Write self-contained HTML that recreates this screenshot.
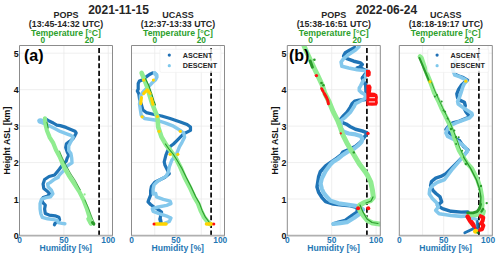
<!DOCTYPE html>
<html><head><meta charset="utf-8"><style>
html,body{margin:0;padding:0;background:#fff;overflow:hidden}
svg{display:block}
</style></head><body>
<svg width="500" height="259" viewBox="0 0 500 259">
<rect width="500" height="259" fill="#fff"/>
<g stroke="#ebebeb" stroke-width="0.8"><line x1="19.5" y1="199.04" x2="112.5" y2="199.04"/><line x1="19.5" y1="162.58" x2="112.5" y2="162.58"/><line x1="19.5" y1="126.12" x2="112.5" y2="126.12"/><line x1="19.5" y1="89.66" x2="112.5" y2="89.66"/><line x1="19.5" y1="53.20" x2="112.5" y2="53.20"/><line x1="63.90" y1="45.5" x2="63.90" y2="235.5"/><line x1="108.30" y1="45.5" x2="108.30" y2="235.5"/></g>
<g stroke="#ebebeb" stroke-width="0.8"><line x1="131.5" y1="199.04" x2="224.5" y2="199.04"/><line x1="131.5" y1="162.58" x2="224.5" y2="162.58"/><line x1="131.5" y1="126.12" x2="224.5" y2="126.12"/><line x1="131.5" y1="89.66" x2="224.5" y2="89.66"/><line x1="131.5" y1="53.20" x2="224.5" y2="53.20"/><line x1="175.90" y1="45.5" x2="175.90" y2="235.5"/><line x1="220.30" y1="45.5" x2="220.30" y2="235.5"/><line x1="154.75" y1="45.5" x2="154.75" y2="235.5"/><line x1="201.25" y1="45.5" x2="201.25" y2="235.5"/></g>
<g stroke="#ebebeb" stroke-width="0.8"><line x1="287.3" y1="199.04" x2="380.3" y2="199.04"/><line x1="287.3" y1="162.58" x2="380.3" y2="162.58"/><line x1="287.3" y1="126.12" x2="380.3" y2="126.12"/><line x1="287.3" y1="89.66" x2="380.3" y2="89.66"/><line x1="287.3" y1="53.20" x2="380.3" y2="53.20"/><line x1="331.70" y1="45.5" x2="331.70" y2="235.5"/><line x1="376.10" y1="45.5" x2="376.10" y2="235.5"/></g>
<g stroke="#ebebeb" stroke-width="0.8"><line x1="399.3" y1="199.04" x2="492.3" y2="199.04"/><line x1="399.3" y1="162.58" x2="492.3" y2="162.58"/><line x1="399.3" y1="126.12" x2="492.3" y2="126.12"/><line x1="399.3" y1="89.66" x2="492.3" y2="89.66"/><line x1="399.3" y1="53.20" x2="492.3" y2="53.20"/><line x1="443.70" y1="45.5" x2="443.70" y2="235.5"/><line x1="488.10" y1="45.5" x2="488.10" y2="235.5"/><line x1="422.55" y1="45.5" x2="422.55" y2="235.5"/><line x1="469.05" y1="45.5" x2="469.05" y2="235.5"/></g>
<line x1="99.10" y1="235.5" x2="99.10" y2="45.5" stroke="#111" stroke-width="1.8" stroke-dasharray="5.1 2.5"/>
<line x1="211.10" y1="235.5" x2="211.10" y2="45.5" stroke="#111" stroke-width="1.8" stroke-dasharray="5.1 2.5"/>
<line x1="366.90" y1="235.5" x2="366.90" y2="45.5" stroke="#111" stroke-width="1.8" stroke-dasharray="5.1 2.5"/>
<line x1="478.90" y1="235.5" x2="478.90" y2="45.5" stroke="#111" stroke-width="1.8" stroke-dasharray="5.1 2.5"/>
<defs><clipPath id="ax"><rect x="19.5" y="45.5" width="93.0" height="190.0"/><rect x="131.5" y="45.5" width="93.0" height="190.0"/><rect x="287.3" y="45.5" width="93.0" height="190.0"/><rect x="399.3" y="45.5" width="93.0" height="190.0"/></clipPath></defs>
<g clip-path="url(#ax)"><g fill="none" stroke-linecap="round" stroke-linejoin="round">
<polyline points="45.6,118.9 49.1,121.0 53.3,123.0 56.8,125.1 60.2,125.6 66.0,127.4 70.8,129.4 75.0,131.2 76.2,133.0 75.0,135.4 73.2,138.4 69.6,141.4 66.4,143.8 65.7,147.5 67.2,152.0 68.7,155.1 67.2,158.1 66.2,161.2 62.7,164.6 59.3,169.3 54.6,175.0 49.1,176.5 44.6,179.5 43.1,184.0 43.8,188.6 47.6,191.6 49.8,193.8 47.6,196.1 43.1,197.6 41.6,199.8 43.1,202.9 45.3,205.1 44.6,209.0 45.3,213.6 49.1,215.1 55.1,215.8 58.9,217.3 59.6,219.6 58.1,221.8 55.1,223.3 54.4,224.8" stroke="#1f74b6" stroke-width="3.2"/>
<polyline points="39.0,120.5 42.0,122.5 47.7,125.1 54.7,128.6 60.2,131.4 66.0,133.6 70.8,135.4 73.2,137.2 72.0,139.6 70.2,143.0 68.7,146.0 68.7,150.5 70.9,153.6 71.7,158.1 72.0,162.9 67.4,165.8 62.7,171.6 59.3,175.0 58.1,177.4 54.6,179.1 50.0,182.6 47.6,184.0 48.3,187.0 51.4,190.1 52.9,193.8 50.6,196.8 46.1,197.6 41.6,199.1 40.1,203.6 40.1,209.0 40.8,213.6 42.3,217.3 47.6,218.8 53.6,219.6 57.4,220.3 58.1,222.6 61.9,223.3 64.9,223.8" stroke="#84c8ec" stroke-width="3.4"/>
<polyline points="40.3,121.0 42.5,121.6" stroke="#84c8ec" stroke-width="5.6"/>
<polyline points="44.9,118.4 45.6,125.1 47.0,130.7 49.8,137.6 53.3,143.2 56.0,150.0 59.8,157.0 63.9,166.9 68.5,175.0 73.1,182.0 79.3,191.6 83.2,199.3 87.0,209.0 90.0,218.6 90.9,223.4" stroke="#90ec90" stroke-width="4.2"/>
<polyline points="59.5,151.0 62.5,158.0 66.5,166.0 71.0,174.0 75.0,180.0 80.3,189.7" stroke="#2a9a2a" stroke-width="0.8"/>
<polyline points="85.0,200.0 88.5,208.0 91.5,216.0 93.5,221.0 94.8,223.4" stroke="#2a9a2a" stroke-width="0.8"/>
<circle cx="84.6" cy="194.4" r="1.1" fill="#90ec90" stroke="none"/>
<polyline points="88.5,219.0 91.0,223.5" stroke="#90ec90" stroke-width="4.5"/>
<polyline points="47.0,122.3 48.2,128.0" stroke="#2a9a2a" stroke-width="1.0"/>
<polyline points="92.5,222.5 93.8,224.2" stroke="#2a9a2a" stroke-width="3.0"/>
<polyline points="152.7,72.9 149.5,74.5 146.9,76.4 142.3,79.9 139.4,81.1 138.2,83.4 138.2,89.2 137.3,91.0 138.8,93.8 139.5,98.9 141.2,104.0 142.9,110.0 146.3,112.6 153.1,114.3 161.6,116.0 170.1,118.5 180.3,121.9 187.1,124.5 190.5,127.0 190.5,130.4 187.1,132.1 183.7,133.8 180.3,137.2 176.9,140.6 173.5,144.0 170.1,146.6 167.6,150.8 165.9,155.1 164.2,161.9 165.0,165.3 167.6,170.4 169.3,173.8 165.0,177.2 159.9,179.8 154.8,182.3 151.4,186.6 150.6,190.8 150.6,195.1 148.9,199.4 148.0,201.9 150.6,204.5 154.0,207.0 158.2,209.6 161.6,212.1 160.8,215.5 159.9,218.9 160.8,221.5" stroke="#1f74b6" stroke-width="3.2"/>
<polyline points="154.5,72.8 156.6,74.5 157.0,77.0 155.5,80.0 152.5,82.5 148.9,86.4 146.0,89.0 143.0,92.0 140.4,96.0 140.4,99.0 139.5,104.0 140.4,110.0 141.2,115.1 144.6,118.5 156.5,120.2 165.0,122.8 173.5,126.2 180.3,130.4 183.7,133.0 184.6,137.2 182.0,142.3 179.5,146.6 177.8,150.8 176.1,155.1 171.8,160.2 169.3,167.0 168.4,172.1 165.9,176.4 161.6,178.9 157.4,181.5 154.0,184.9 153.1,189.1 153.1,194.0 155.7,193.4 156.5,196.8 163.3,199.4 170.1,201.1 171.0,203.6 166.7,205.3 158.2,207.0 152.3,208.7 153.1,211.3 159.9,213.8 167.6,216.4 171.0,218.1 169.3,221.5 165.0,223.2" stroke="#84c8ec" stroke-width="3.4"/>
<polyline points="155.0,73.6 156.2,75.0" stroke="#84c8ec" stroke-width="4.2"/>
<polyline points="141.6,72.8 144.6,80.2 147.2,87.0 149.7,95.5 152.3,104.0 155.7,112.5 157.4,116.8 158.2,127.0 161.6,137.2 166.2,145.0 170.1,150.0 175.2,157.0 180.3,167.0 184.6,177.2 189.9,187.4 194.2,196.8 198.2,203.6 200.7,210.4 204.1,217.2 207.5,221.5 210.1,224.0" stroke="#90ec90" stroke-width="4.6"/>
<polyline points="145.5,78.7 148.6,85.0 151.5,93.0 154.0,101.0 155.5,105.0" stroke="#2a9a2a" stroke-width="1.1"/>
<polyline points="165.4,144.0 168.9,149.0 173.1,154.0 176.9,160.0 181.9,168.5 186.2,177.2 191.4,187.4 195.7,196.8 199.6,203.6 202.1,210.4 205.4,217.2 209.4,222.5" stroke="#2a9a2a" stroke-width="1.1"/>
<polyline points="143.6,93.6 147.2,89.8 150.2,93.6" stroke="#ffd400" stroke-width="3.0"/>
<polyline points="141.5,97.6 140.7,103.8" stroke="#ffd400" stroke-width="3.0"/>
<polyline points="151.4,98.2 152.9,104.3" stroke="#ffd400" stroke-width="3.0"/>
<circle cx="143.7" cy="80.1" r="1.6" fill="#ffd400" stroke="none"/>
<circle cx="153.4" cy="80.1" r="1.6" fill="#ffd400" stroke="none"/>
<circle cx="142.1" cy="116.8" r="1.6" fill="#ffd400" stroke="none"/>
<circle cx="157.4" cy="116.5" r="1.6" fill="#ffd400" stroke="none"/>
<circle cx="159.1" cy="131.3" r="1.6" fill="#ffd400" stroke="none"/>
<circle cx="180.3" cy="131.3" r="1.6" fill="#ffd400" stroke="none"/>
<circle cx="170.1" cy="154.3" r="1.6" fill="#ffd400" stroke="none"/>
<circle cx="177.8" cy="154.3" r="1.6" fill="#ffd400" stroke="none"/>
<polyline points="160.4,219.5 160.8,223.0" stroke="#1f74b6" stroke-width="3.6"/>
<polyline points="155.5,224.0 166.0,224.0" stroke="#ffd400" stroke-width="3.6"/>
<polyline points="206.5,224.0 211.8,224.0" stroke="#ffd400" stroke-width="3.6"/>
<circle cx="154.0" cy="224" r="1.5" fill="#ff1010" stroke="none"/>
<circle cx="213.8" cy="224" r="1.5" fill="#ff1010" stroke="none"/>
<polyline points="354.7,47.6 350.0,50.0 345.3,52.7 343.6,56.1 347.0,58.6 353.8,61.2 360.6,62.9 362.3,64.6 359.8,67.1 357.2,68.0 362.3,68.8 365.7,70.5 367.4,71.4 364.0,75.6 362.3,78.2 363.2,80.7 365.7,85.0 366.0,92.0 366.0,98.0 365.7,99.5 358.9,100.3 354.7,101.2 352.1,103.7 350.4,107.1 347.0,112.2 342.8,116.5 340.2,119.9 341.9,122.4 346.2,124.1 350.4,126.7 355.5,129.3 362.3,131.0 366.6,132.7 365.7,135.2 363.2,138.6 360.6,142.0 355.5,146.3 348.7,149.7 342.8,152.2 341.1,154.8 336.8,158.2 331.7,161.6 325.6,166.0 320.3,171.8 318.6,176.9 317.8,182.0 317.0,187.1 318.6,192.2 321.8,197.3 325.6,201.6 333.4,204.1 341.9,205.0 350.4,205.8 357.2,207.5 357.2,212.0 352.1,215.4 345.3,220.5 338.5,222.2 333.4,223.9" stroke="#1f74b6" stroke-width="3.5"/>
<polyline points="358.9,46.7 355.5,50.1 348.7,54.4 343.6,58.6 341.1,62.0 341.9,66.3 348.7,68.0 357.2,69.7 364.0,70.5 367.4,71.4 365.7,75.6 364.0,79.0 362.3,82.4 360.6,85.8 359.3,88.0 359.3,90.4 361.6,92.7 364.9,94.5 365.7,97.8 363.2,99.5 358.9,102.0 355.5,103.7 353.8,107.1 350.4,112.2 345.3,117.3 341.6,120.2 340.8,124.0 341.5,128.0 343.6,131.8" stroke="#84c8ec" stroke-width="3.6"/>
<polyline points="343.6,131.8 348.7,133.5 355.5,134.4 360.6,136.1 362.3,138.6 361.5,142.0 358.1,145.4 353.8,148.8 347.0,152.2 341.9,155.6 337.7,159.0 333.4,161.6 330.0,165.0 325.6,171.0 321.8,178.6 320.6,183.7 321.8,188.8 323.8,193.1 327.2,197.3 330.5,200.7 338.5,203.3 347.0,204.5 355.5,205.8 360.0,207.5 363.2,209.5 359.8,213.7 353.8,218.0 347.0,222.2 340.2,223.1 333.4,223.9" stroke="#84c8ec" stroke-width="4.2"/>
<polyline points="303.9,45.6 306.6,52.0 309.7,58.5 312.3,64.0 315.1,70.0 317.8,75.6 322.2,85.0 324.9,93.5 329.2,102.0 333.4,112.2 337.7,120.7 340.2,127.0 342.7,134.7 347.6,144.3 353.4,154.0 359.2,163.7 365.0,171.4 367.4,175.2 370.8,182.0 372.5,190.5 373.4,197.3 370.8,200.5 364.0,202.7 359.5,205.2 359.8,210.3 363.2,215.4 367.4,220.5 372.5,223.1 379.5,223.9" stroke="#90ec90" stroke-width="5.0"/>
<circle cx="353.8" cy="152.4" r="1.2" fill="#2a9a2a" stroke="none"/>
<polyline points="360.0,205.0 363.0,212.0 367.0,219.0 372.0,222.5 378.0,223.5" stroke="#2a9a2a" stroke-width="1.2"/>
<polyline points="366.0,203.0 371.0,201.0 373.0,197.0" stroke="#2a9a2a" stroke-width="1.2"/>
<polyline points="310.2,61.0 312.4,67.2" stroke="#2a9a2a" stroke-width="3.0"/>
<circle cx="314.4" cy="59.8" r="1.3" fill="#2a9a2a" stroke="none"/>
<circle cx="323.4" cy="85.2" r="1.3" fill="#2a9a2a" stroke="none"/>
<circle cx="321.5" cy="83" r="1.3" fill="#2a9a2a" stroke="none"/>
<circle cx="362.5" cy="77.3" r="1.5" fill="#1f74b6" stroke="none"/>
<circle cx="316.4" cy="75.6" r="1.7" fill="#ff1010" stroke="none"/>
<circle cx="368" cy="133.4" r="1.7" fill="#ff1010" stroke="none"/>
<circle cx="358.1" cy="208.3" r="2.0" fill="#ff1010" stroke="none"/>
<circle cx="368.3" cy="208.3" r="2.0" fill="#ff1010" stroke="none"/>
<circle cx="340.8" cy="133.4" r="1.1" fill="#ff1010" stroke="none"/>
<polyline points="321.6,88.6 323.2,91.5" stroke="#ff1010" stroke-width="2.8"/>
<polyline points="324.3,93.5 326.5,97.5 327.8,100.5 328.4,103.8" stroke="#ff1010" stroke-width="3.0"/>
<path d="M366,70 L369.5,69.8 L370.8,72 L370.6,75.5 L368.5,77 L366,76.5 Z" fill="#ff1010" stroke="none"/>
<path d="M366.4,84.8 L370.2,84.6 L371.6,87 L371.2,90.5 L370.8,92.6 L374.5,92.8 L377.2,94.2 L377.9,97 L377.6,100 L377.9,103 L376.8,105.4 L372,105.8 L366.4,105.6 Z" fill="#ff1010" stroke="none"/>
<path d="M369.4,97.1 L375,97.1 L375,98.3 L369.4,98.3 Z M368.8,101.2 L375,101.2 L375,102.4 L368.8,102.4 Z" fill="#ffc8c8" stroke="none"/>
<polyline points="454.8,74.2 459.0,76.0 463.3,77.6 467.5,80.2 464.1,82.7 461.3,85.3 458.6,89.5 456.8,93.8 457.6,98.0 460.7,100.6 464.4,102.3 465.3,105.7 464.1,108.2 466.0,112.0 469.7,116.8 459.5,121.1 452.7,122.8 448.5,126.2 445.9,129.6 448.5,132.1 452.7,135.5 456.1,138.9 459.5,140.6 461.2,143.2 463.8,146.6 468.0,150.0 465.5,153.4 461.2,158.5 456.1,163.6 451.0,168.7 445.9,173.8 440.8,176.4 435.7,178.1 431.5,181.5 430.6,185.7 433.2,190.8 436.0,193.5 440.0,196.8 441.7,201.9 437.4,205.3 442.5,208.7 451.0,211.3 461.2,212.1 468.0,212.0" stroke="#1f74b6" stroke-width="3.4"/>
<polyline points="455.5,60.5 452.7,70.0 453.1,70.8 454.8,75.1 459.9,76.8 465.0,79.3 466.7,81.0 464.4,83.6 462.8,87.0 461.2,92.1 459.5,97.2 457.6,101.4 458.2,104.0 461.6,106.5 466.7,109.9 471.8,113.3 472.3,115.1 469.7,117.7 462.9,120.2 456.1,122.8 451.0,125.3 447.6,128.7 445.9,133.0 447.6,136.4 452.7,138.9 457.8,141.5 461.2,144.0 464.6,146.6 467.2,150.0 467.2,151.7 462.9,156.8 458.7,161.9 452.7,168.7 447.6,175.5 444.2,179.8 437.4,182.3 432.3,185.7 429.8,189.1 429.3,194.0 432.3,198.5 436.6,202.8 438.3,207.0 435.7,210.4 439.1,213.8 451.0,215.5 461.2,216.4 470.4,215.6" stroke="#84c8ec" stroke-width="3.6"/>
<polyline points="419.9,56.5 421.5,58.0 425.5,70.0 430.7,82.8 434.0,92.1 438.3,100.6 442.0,109.0 445.9,116.8 449.3,123.6 452.7,132.1 455.5,140.6 457.3,146.0 458.9,150.0 462.9,156.8 466.5,162.5 471.7,168.2 477.5,179.8 480.4,188.5 481.9,197.2 482.2,204.4 481.8,209.5 479.5,213.6 474.0,215.6 468.5,215.7" stroke="#90ec90" stroke-width="4.6"/>
<polyline points="482.5,209.0 484.5,211.0 483.5,214.5" stroke="#90ec90" stroke-width="3.0"/>
<polyline points="419.4,58.0 422.0,64.0 424.5,70.0 427.0,76.0 429.0,81.0" stroke="#2a9a2a" stroke-width="2.0"/>
<polyline points="431.0,81.0 434.5,90.0 438.5,99.0 442.5,107.5 446.5,115.5 450.2,123.0 453.5,131.0 456.8,139.5 459.5,147.0 462.0,153.0 464.0,157.0" stroke="#2a9a2a" stroke-width="0.9"/>
<circle cx="434.9" cy="96.4" r="1.0" fill="#2a9a2a" stroke="none"/>
<circle cx="441.7" cy="101.5" r="1.0" fill="#2a9a2a" stroke="none"/>
<circle cx="445.1" cy="111.7" r="1.0" fill="#2a9a2a" stroke="none"/>
<circle cx="447.6" cy="118.5" r="1.0" fill="#2a9a2a" stroke="none"/>
<circle cx="454.4" cy="130.4" r="1.0" fill="#2a9a2a" stroke="none"/>
<circle cx="458.7" cy="137.2" r="1.0" fill="#2a9a2a" stroke="none"/>
<circle cx="456.1" cy="144" r="1.0" fill="#2a9a2a" stroke="none"/>
<circle cx="462.1" cy="150.8" r="1.0" fill="#2a9a2a" stroke="none"/>
<circle cx="437" cy="95" r="1.0" fill="#2a9a2a" stroke="none"/>
<circle cx="443.5" cy="110.5" r="1.0" fill="#2a9a2a" stroke="none"/>
<polyline points="463.5,157.0 470.7,168.5 476.5,180.0 479.4,188.5 480.9,197.2 480.6,204.4" stroke="#2a9a2a" stroke-width="1.4"/>
<polyline points="480.6,204.4 479.5,208.5 477.0,211.6 473.0,212.8 467.6,212.8" stroke="#2a9a2a" stroke-width="2.8"/>
<polyline points="481.5,211.5 483.0,209.0" stroke="#2a9a2a" stroke-width="2.4"/>
<circle cx="430" cy="81.6" r="1.6" fill="#ffd400" stroke="none"/>
<circle cx="465.8" cy="81.2" r="1.6" fill="#ffd400" stroke="none"/>
<circle cx="486.7" cy="203.1" r="1.2" fill="#2a9a2a" stroke="none"/>
<circle cx="481" cy="186" r="1.2" fill="#2a9a2a" stroke="none"/>
<circle cx="465.8" cy="164" r="1.2" fill="#2a9a2a" stroke="none"/>
<circle cx="456" cy="137" r="1.2" fill="#2a9a2a" stroke="none"/>
<circle cx="451" cy="129" r="1.2" fill="#2a9a2a" stroke="none"/>
<polyline points="467.6,216.6 470.0,220.5 473.0,224.5 475.0,227.5" stroke="#ff1010" stroke-width="4.6"/>
<polyline points="480.6,216.2 483.3,217.6 482.6,221.0 481.2,223.2 483.4,225.6 482.0,229.3 479.8,229.8" stroke="#ff1010" stroke-width="4.0"/>
<polyline points="472.5,218.6 476.5,219.2" stroke="#84c8ec" stroke-width="3.0"/>
<polyline points="476.6,219.2 477.0,226.0" stroke="#84c8ec" stroke-width="2.4"/>
<polyline points="477.4,221.2 477.6,228.5" stroke="#1f74b6" stroke-width="2.4"/>
<polyline points="464.8,232.8 472.7,228.9" stroke="#1f74b6" stroke-width="2.8"/>
<circle cx="475.6" cy="231.2" r="2.5" fill="#ffd400" stroke="none"/>
<circle cx="477.6" cy="232.8" r="1.1" fill="#2a9a2a" stroke="none"/>
</g></g>
<line x1="19.0" y1="235.7" x2="113.0" y2="235.7" stroke="#b0b0b0" stroke-width="1.7"/>
<path d="M19.5,235.5 V45.5 H112.5 V235.5" fill="none" stroke="#8c8c8c" stroke-width="1"/>
<line x1="131.0" y1="235.7" x2="225.0" y2="235.7" stroke="#b0b0b0" stroke-width="1.7"/>
<path d="M131.5,235.5 V45.5 H224.5 V235.5" fill="none" stroke="#8c8c8c" stroke-width="1"/>
<line x1="286.8" y1="235.7" x2="380.8" y2="235.7" stroke="#b0b0b0" stroke-width="1.7"/>
<path d="M287.3,235.5 V45.5 H380.3 V235.5" fill="none" stroke="#8c8c8c" stroke-width="1"/>
<line x1="398.8" y1="235.7" x2="492.8" y2="235.7" stroke="#b0b0b0" stroke-width="1.7"/>
<path d="M399.3,235.5 V45.5 H492.3 V235.5" fill="none" stroke="#8c8c8c" stroke-width="1"/>
<text x="118.5" y="13.8" font-size="12" text-anchor="middle" fill="#262626" font-family="Liberation Sans, sans-serif" font-weight="bold">2021-11-15</text>
<text x="386.4" y="13.8" font-size="12" text-anchor="middle" fill="#262626" font-family="Liberation Sans, sans-serif" font-weight="bold">2022-06-24</text>
<text x="66.00" y="17.6" font-size="9" text-anchor="middle" fill="#262626" font-family="Liberation Sans, sans-serif" font-weight="bold">POPS</text>
<text x="66.00" y="27.2" font-size="8.8" text-anchor="middle" fill="#262626" font-family="Liberation Sans, sans-serif" font-weight="bold">(13:45-14:32 UTC)</text>
<text x="66.00" y="36" font-size="8.7" text-anchor="middle" fill="#2ca02c" font-family="Liberation Sans, sans-serif" font-weight="bold">Temperature [°C]</text>
<text x="42.75" y="43.4" font-size="8.3" text-anchor="middle" fill="#2ca02c" font-family="Liberation Sans, sans-serif" font-weight="bold">0</text>
<text x="89.25" y="43.4" font-size="8.3" text-anchor="middle" fill="#2ca02c" font-family="Liberation Sans, sans-serif" font-weight="bold">20</text>
<text x="19.50" y="242.8" font-size="8.4" text-anchor="middle" fill="#1f77b4" font-family="Liberation Sans, sans-serif" font-weight="bold">0</text>
<text x="63.90" y="242.8" font-size="8.4" text-anchor="middle" fill="#1f77b4" font-family="Liberation Sans, sans-serif" font-weight="bold">50</text>
<text x="108.30" y="242.8" font-size="8.4" text-anchor="middle" fill="#1f77b4" font-family="Liberation Sans, sans-serif" font-weight="bold">100</text>
<text x="65.70" y="251.4" font-size="8.6" text-anchor="middle" fill="#1f77b4" font-family="Liberation Sans, sans-serif" font-weight="bold">Humidity [%]</text>
<text x="178.00" y="17.6" font-size="9" text-anchor="middle" fill="#262626" font-family="Liberation Sans, sans-serif" font-weight="bold">UCASS</text>
<text x="178.00" y="27.2" font-size="8.8" text-anchor="middle" fill="#262626" font-family="Liberation Sans, sans-serif" font-weight="bold">(12:37-13:33 UTC)</text>
<text x="178.00" y="36" font-size="8.7" text-anchor="middle" fill="#2ca02c" font-family="Liberation Sans, sans-serif" font-weight="bold">Temperature [°C]</text>
<text x="154.75" y="43.4" font-size="8.3" text-anchor="middle" fill="#2ca02c" font-family="Liberation Sans, sans-serif" font-weight="bold">0</text>
<text x="201.25" y="43.4" font-size="8.3" text-anchor="middle" fill="#2ca02c" font-family="Liberation Sans, sans-serif" font-weight="bold">20</text>
<text x="131.50" y="242.8" font-size="8.4" text-anchor="middle" fill="#1f77b4" font-family="Liberation Sans, sans-serif" font-weight="bold">0</text>
<text x="175.90" y="242.8" font-size="8.4" text-anchor="middle" fill="#1f77b4" font-family="Liberation Sans, sans-serif" font-weight="bold">50</text>
<text x="220.30" y="242.8" font-size="8.4" text-anchor="middle" fill="#1f77b4" font-family="Liberation Sans, sans-serif" font-weight="bold">100</text>
<text x="177.70" y="251.4" font-size="8.6" text-anchor="middle" fill="#1f77b4" font-family="Liberation Sans, sans-serif" font-weight="bold">Humidity [%]</text>
<text x="333.80" y="17.6" font-size="9" text-anchor="middle" fill="#262626" font-family="Liberation Sans, sans-serif" font-weight="bold">POPS</text>
<text x="333.80" y="27.2" font-size="8.8" text-anchor="middle" fill="#262626" font-family="Liberation Sans, sans-serif" font-weight="bold">(15:38-16:51 UTC)</text>
<text x="333.80" y="36" font-size="8.7" text-anchor="middle" fill="#2ca02c" font-family="Liberation Sans, sans-serif" font-weight="bold">Temperature [°C]</text>
<text x="310.55" y="43.4" font-size="8.3" text-anchor="middle" fill="#2ca02c" font-family="Liberation Sans, sans-serif" font-weight="bold">0</text>
<text x="357.05" y="43.4" font-size="8.3" text-anchor="middle" fill="#2ca02c" font-family="Liberation Sans, sans-serif" font-weight="bold">20</text>
<text x="287.30" y="242.8" font-size="8.4" text-anchor="middle" fill="#1f77b4" font-family="Liberation Sans, sans-serif" font-weight="bold">0</text>
<text x="331.70" y="242.8" font-size="8.4" text-anchor="middle" fill="#1f77b4" font-family="Liberation Sans, sans-serif" font-weight="bold">50</text>
<text x="376.10" y="242.8" font-size="8.4" text-anchor="middle" fill="#1f77b4" font-family="Liberation Sans, sans-serif" font-weight="bold">100</text>
<text x="333.50" y="251.4" font-size="8.6" text-anchor="middle" fill="#1f77b4" font-family="Liberation Sans, sans-serif" font-weight="bold">Humidity [%]</text>
<text x="445.80" y="17.6" font-size="9" text-anchor="middle" fill="#262626" font-family="Liberation Sans, sans-serif" font-weight="bold">UCASS</text>
<text x="445.80" y="27.2" font-size="8.8" text-anchor="middle" fill="#262626" font-family="Liberation Sans, sans-serif" font-weight="bold">(18:18-19:17 UTC)</text>
<text x="445.80" y="36" font-size="8.7" text-anchor="middle" fill="#2ca02c" font-family="Liberation Sans, sans-serif" font-weight="bold">Temperature [°C]</text>
<text x="422.55" y="43.4" font-size="8.3" text-anchor="middle" fill="#2ca02c" font-family="Liberation Sans, sans-serif" font-weight="bold">0</text>
<text x="469.05" y="43.4" font-size="8.3" text-anchor="middle" fill="#2ca02c" font-family="Liberation Sans, sans-serif" font-weight="bold">20</text>
<text x="399.30" y="242.8" font-size="8.4" text-anchor="middle" fill="#1f77b4" font-family="Liberation Sans, sans-serif" font-weight="bold">0</text>
<text x="443.70" y="242.8" font-size="8.4" text-anchor="middle" fill="#1f77b4" font-family="Liberation Sans, sans-serif" font-weight="bold">50</text>
<text x="488.10" y="242.8" font-size="8.4" text-anchor="middle" fill="#1f77b4" font-family="Liberation Sans, sans-serif" font-weight="bold">100</text>
<text x="445.50" y="251.4" font-size="8.6" text-anchor="middle" fill="#1f77b4" font-family="Liberation Sans, sans-serif" font-weight="bold">Humidity [%]</text>
<text x="18.60" y="239.20" font-size="8.9" text-anchor="end" fill="#111" font-family="Liberation Sans, sans-serif" font-weight="bold">0</text>
<text x="18.60" y="202.74" font-size="8.9" text-anchor="end" fill="#111" font-family="Liberation Sans, sans-serif" font-weight="bold">1</text>
<text x="18.60" y="166.28" font-size="8.9" text-anchor="end" fill="#111" font-family="Liberation Sans, sans-serif" font-weight="bold">2</text>
<text x="18.60" y="129.82" font-size="8.9" text-anchor="end" fill="#111" font-family="Liberation Sans, sans-serif" font-weight="bold">3</text>
<text x="18.60" y="93.36" font-size="8.9" text-anchor="end" fill="#111" font-family="Liberation Sans, sans-serif" font-weight="bold">4</text>
<text x="18.60" y="56.90" font-size="8.9" text-anchor="end" fill="#111" font-family="Liberation Sans, sans-serif" font-weight="bold">5</text>
<text transform="translate(10.30,140.6) rotate(-90)" x="0" y="0" font-size="8.8" text-anchor="middle" fill="#111" font-family="Liberation Sans, sans-serif" font-weight="bold">Height ASL [km]</text>
<text x="286.40" y="239.20" font-size="8.9" text-anchor="end" fill="#111" font-family="Liberation Sans, sans-serif" font-weight="bold">0</text>
<text x="286.40" y="202.74" font-size="8.9" text-anchor="end" fill="#111" font-family="Liberation Sans, sans-serif" font-weight="bold">1</text>
<text x="286.40" y="166.28" font-size="8.9" text-anchor="end" fill="#111" font-family="Liberation Sans, sans-serif" font-weight="bold">2</text>
<text x="286.40" y="129.82" font-size="8.9" text-anchor="end" fill="#111" font-family="Liberation Sans, sans-serif" font-weight="bold">3</text>
<text x="286.40" y="93.36" font-size="8.9" text-anchor="end" fill="#111" font-family="Liberation Sans, sans-serif" font-weight="bold">4</text>
<text x="286.40" y="56.90" font-size="8.9" text-anchor="end" fill="#111" font-family="Liberation Sans, sans-serif" font-weight="bold">5</text>
<text transform="translate(278.10,140.6) rotate(-90)" x="0" y="0" font-size="8.8" text-anchor="middle" fill="#111" font-family="Liberation Sans, sans-serif" font-weight="bold">Height ASL [km]</text>
<text x="24.0" y="61.0" font-size="16" fill="#000" font-family="Liberation Sans, sans-serif" font-weight="bold">(a)</text>
<text x="288.9" y="61.0" font-size="16" fill="#000" font-family="Liberation Sans, sans-serif" font-weight="bold">(b)</text>
<rect x="159.90" y="49.2" width="61.10" height="23.2" rx="1.5" fill="#fff" fill-opacity="0.8" stroke="#ececec" stroke-width="0.6"/>
<circle cx="169.30" cy="55.1" r="1.6" fill="#1f6fb5"/>
<circle cx="169.30" cy="65.7" r="1.6" fill="#7fc8ec"/>
<text x="182.80" y="57.9" font-size="7.2" fill="#262626" font-family="Liberation Sans, sans-serif" font-weight="bold">ASCENT</text>
<text x="182.80" y="68.1" font-size="7.2" fill="#262626" font-family="Liberation Sans, sans-serif" font-weight="bold">DESCENT</text>
<rect x="427.70" y="49.2" width="61.10" height="23.2" rx="1.5" fill="#fff" fill-opacity="0.8" stroke="#ececec" stroke-width="0.6"/>
<circle cx="437.10" cy="55.1" r="1.6" fill="#1f6fb5"/>
<circle cx="437.10" cy="65.7" r="1.6" fill="#7fc8ec"/>
<text x="450.60" y="57.9" font-size="7.2" fill="#262626" font-family="Liberation Sans, sans-serif" font-weight="bold">ASCENT</text>
<text x="450.60" y="68.1" font-size="7.2" fill="#262626" font-family="Liberation Sans, sans-serif" font-weight="bold">DESCENT</text>
</svg>
</body></html>
